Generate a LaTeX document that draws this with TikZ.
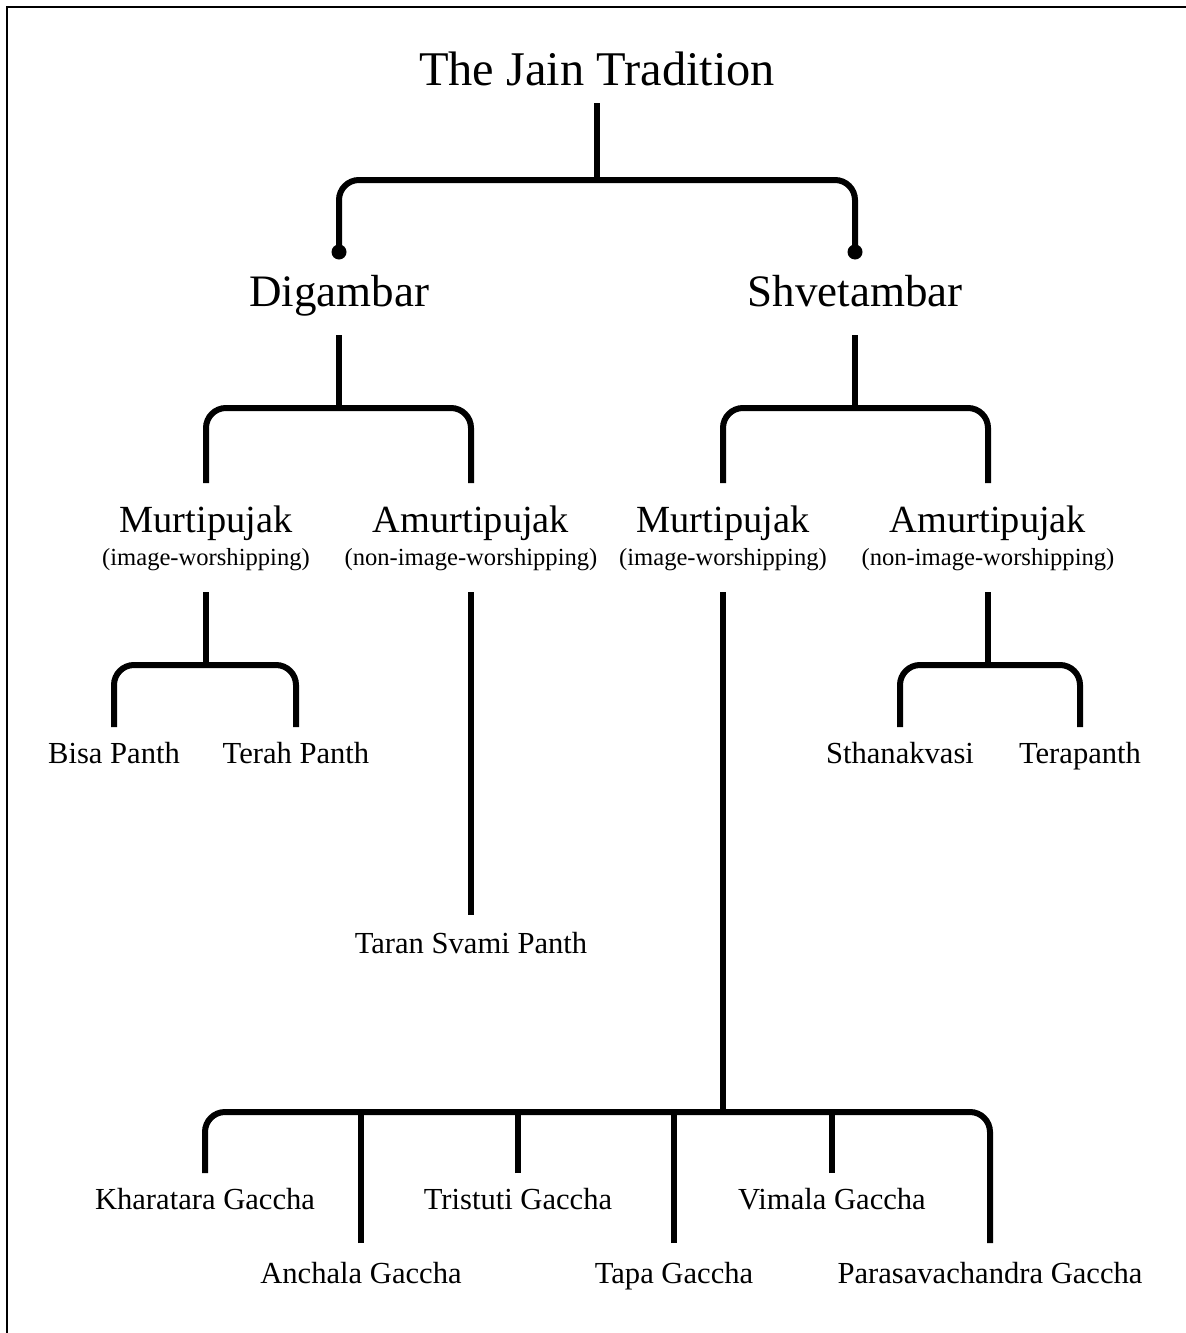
\documentclass[tikz,border=0pt]{standalone}
\usepackage{fontspec}
\setmainfont{Liberation Serif}

\begin{document}
\begin{tikzpicture}[x=0.5pt,y=-0.5pt,
      link/.style={line width=3pt,rounded corners=10pt},
      stem/.style={line width=3pt},
      tip/.style={circle,fill,inner sep=0pt,minimum size=7.5pt},
      lvlzero/.style={font=\fontsize{24.2}{28}\selectfont,anchor=base,inner sep=0pt},
      lvlone/.style={font=\fontsize{22.5}{26}\selectfont,anchor=base,inner sep=0pt},
      lvltwo/.style={font=\fontsize{19.2}{22}\selectfont,anchor=base,inner sep=0pt},
      gloss/.style={font=\fontsize{12.3}{14}\selectfont,anchor=base,inner sep=0pt},
      leaf/.style={font=\fontsize{15.3}{18}\selectfont,anchor=base,inner sep=0pt}]
      \useasboundingbox (0,0) rectangle (1186,1333);
      \draw[line width=1pt] (7,1333) -- (7,7) -- (1186,7);
      % labels
      \node[lvlzero] (jain) at (597,85) {The Jain Tradition};
      \node[lvlone] (dig) at (339,306) {Digambar};
      \node[lvlone] (shv) at (855,306) {Shvetambar};
      \node[lvltwo] (dmur) at (206,532) {Murtipujak};
      \node[gloss] (dmurg) at (206,565) {(image-worshipping)};
      \node[lvltwo] (damur) at (471,532) {Amurtipujak};
      \node[gloss] (damurg) at (471,565) {(non-image-worshipping)};
      \node[lvltwo] (smur) at (723,532) {Murtipujak};
      \node[gloss] (smurg) at (723,565) {(image-worshipping)};
      \node[lvltwo] (samur) at (988,532) {Amurtipujak};
      \node[gloss] (samurg) at (988,565) {(non-image-worshipping)};
      \node[leaf] (bisa) at (114,763) {Bisa Panth};
      \node[leaf] (terah) at (296,763) {Terah Panth};
      \node[leaf] (taran) at (471,953) {Taran Svami Panth};
      \node[leaf] (sthan) at (900,763) {Sthanakvasi};
      \node[leaf] (tera) at (1080,763) {Terapanth};
      \node[leaf] (khar) at (205,1209) {Kharatara Gaccha};
      \node[leaf] (anch) at (361,1283) {Anchala Gaccha};
      \node[leaf] (tris) at (518,1209) {Tristuti Gaccha};
      \node[leaf] (tapa) at (674,1283) {Tapa Gaccha};
      \node[leaf] (vim) at (832,1209) {Vimala Gaccha};
      \node[leaf] (para) at (990,1283) {Parasavachandra Gaccha};
      % junctions
      \coordinate (j1) at (597,180);
      \coordinate (j2) at (339,408);
      \coordinate (j3) at (855,408);
      \coordinate (j4) at (206,665);
      \coordinate (j5) at (988,665);
      \coordinate (j6) at (723,1112);
      % line ends above the labels
      \coordinate (dig-in) at ([yshift=27pt]dig.base);
      \coordinate (shv-in) at ([yshift=27pt]shv.base);
      \foreach \n in {dmur,damur,smur,samur} {\coordinate (\n-in) at ([yshift=24.5pt]\n.base);}
      \foreach \n in {bisa,terah,sthan,tera,khar,tris,vim} {\coordinate (\n-in) at ([yshift=18pt]\n.base);}
      \foreach \n in {anch,tapa,para} {\coordinate (\n-in) at ([yshift=20pt]\n.base);}
      \coordinate (taran-in) at ([yshift=19pt]taran.base);
      % tree
      \draw[stem] ([yshift=-9pt]jain.base) -- (j1);
      \draw[link] (dig-in) |- (j1) -| (shv-in);
      \node[tip] at (dig-in) {};
      \node[tip] at (shv-in) {};
      \draw[stem] ([yshift=-14.5pt]dig.base) -- (j2);
      \draw[link] (dmur-in) |- (j2) -| (damur-in);
      \draw[stem] ([yshift=-14.5pt]shv.base) -- (j3);
      \draw[link] (smur-in) |- (j3) -| (samur-in);
      \draw[stem] ([yshift=-13.5pt]dmurg.base) -- (j4);
      \draw[link] (bisa-in) |- (j4) -| (terah-in);
      \draw[stem] ([yshift=-13.5pt]damurg.base) -- (taran-in);
      \draw[stem] ([yshift=-13.5pt]samurg.base) -- (j5);
      \draw[link] (sthan-in) |- (j5) -| (tera-in);
      \draw[stem] ([yshift=-13.5pt]smurg.base) -- (j6);
      \draw[link] (khar-in) |- (j6) -| (para-in);
      \foreach \n in {anch,tris,tapa,vim} {\draw[stem] (\n-in) -- (\n-in |- j6);}
\end{tikzpicture}
\end{document}
